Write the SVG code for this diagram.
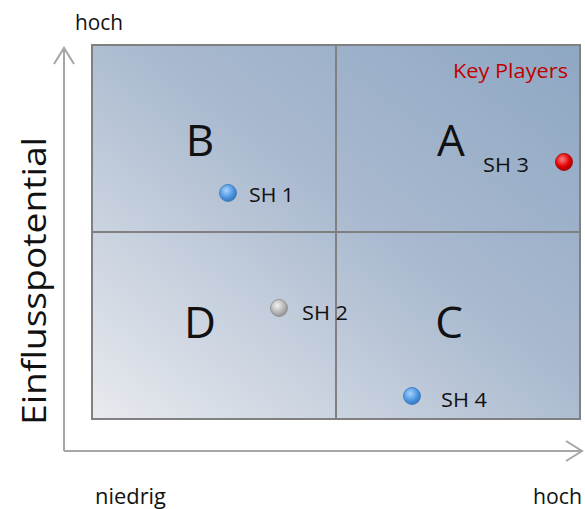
<svg xmlns="http://www.w3.org/2000/svg" width="585" height="509" viewBox="0 0 585 509">
<style>
text{font-family:"Open Sans","Noto Sans","Liberation Sans",sans-serif;fill:#111}
.ax{font-size:21px}
.q{font-size:44px;text-anchor:middle}
.sh{font-size:20px}
.grid{stroke:#808080;stroke-width:2}
.axis{stroke:#a6a6a6;stroke-width:2;fill:none}
</style>
<defs>
<linearGradient id="bg" x1="0" y1="1" x2="1" y2="0">
<stop offset="0" stop-color="#e8eaee"/>
<stop offset="0.55" stop-color="#a9b9cf"/>
<stop offset="1" stop-color="#8ea7c3"/>
</linearGradient>
<radialGradient id="blue" cx="0.4" cy="0.35" r="0.7">
<stop offset="0" stop-color="#a8d4ff"/>
<stop offset="0.6" stop-color="#4d96e0"/>
<stop offset="1" stop-color="#2f6fb5"/>
</radialGradient>
<radialGradient id="gray" cx="0.4" cy="0.35" r="0.7">
<stop offset="0" stop-color="#f2f2f2"/>
<stop offset="0.6" stop-color="#b5b5b5"/>
<stop offset="1" stop-color="#8a8a8a"/>
</radialGradient>
<radialGradient id="red" cx="0.4" cy="0.35" r="0.7">
<stop offset="0" stop-color="#ff8080"/>
<stop offset="0.6" stop-color="#e00000"/>
<stop offset="1" stop-color="#a00000"/>
</radialGradient>
</defs>
<g id="matrix">
<rect x="92" y="45" width="488" height="374" fill="url(#bg)" class="grid"/>
<line x1="336" y1="45" x2="336" y2="419" class="grid"/>
<line x1="92" y1="232" x2="580" y2="232" class="grid"/>
</g>
<g id="connectors">
<path d="M64 451V48M54 64L64 48L74 64" class="axis"/>
<path d="M64 451H582M566 441L582 451L566 461" class="axis"/>
</g>
<g id="labels">
<text class="ax" x="75" y="30" textLength="48" lengthAdjust="spacingAndGlyphs">hoch</text>
<text class="ax" x="95" y="504" textLength="71" lengthAdjust="spacingAndGlyphs">niedrig</text>
<text class="ax" x="533" y="504" textLength="49" lengthAdjust="spacingAndGlyphs">hoch</text>
<text x="46" y="425" font-size="33" transform="rotate(-90 46 425)" textLength="288" lengthAdjust="spacingAndGlyphs">Einflusspotential</text>
<text x="453" y="78" font-size="20" style="fill:#c00000" textLength="115" lengthAdjust="spacingAndGlyphs">Key Players</text>
</g>
<g id="quadrant-B"><text class="q" x="200" y="156">B</text></g>
<g id="quadrant-A"><text class="q" x="451" y="156">A</text></g>
<g id="quadrant-D"><text class="q" x="200" y="338">D</text></g>
<g id="quadrant-C"><text class="q" x="449" y="338">C</text></g>
<g id="SH1"><circle cx="228" cy="193" r="8.5" fill="url(#blue)" stroke="#3a78b8" stroke-width="0.8"/><text class="sh" x="249" y="202" textLength="45" lengthAdjust="spacingAndGlyphs">SH 1</text></g>
<g id="SH2"><circle cx="279" cy="308" r="8.5" fill="url(#gray)" stroke="#8a8a8a" stroke-width="0.8"/><text class="sh" x="302" y="320" textLength="46" lengthAdjust="spacingAndGlyphs">SH 2</text></g>
<g id="SH3"><circle cx="564" cy="162" r="8.5" fill="url(#red)" stroke="#a00000" stroke-width="0.8"/><text class="sh" x="483" y="172" textLength="46" lengthAdjust="spacingAndGlyphs">SH 3</text></g>
<g id="SH4"><circle cx="412" cy="396" r="8.5" fill="url(#blue)" stroke="#3a78b8" stroke-width="0.8"/><text class="sh" x="441" y="407" textLength="46" lengthAdjust="spacingAndGlyphs">SH 4</text></g>
</svg>
